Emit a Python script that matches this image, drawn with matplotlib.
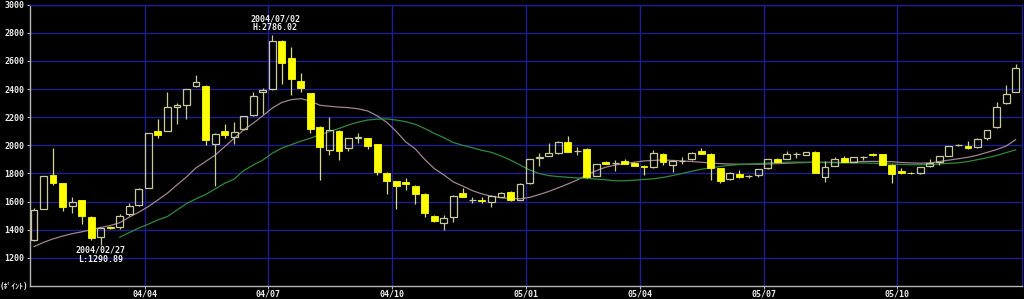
import numpy as np
import pandas as pd
import matplotlib
matplotlib.use('Agg')
import matplotlib.pyplot as plt

# ── data (weekly candles) ─────────────────────────────────────────────────────
dates = pd.date_range('2004-01-09', periods=104, freq='W-FRI')

opens = [1330, 1550, 1790, 1730, 1570, 1610, 1490, 1345, 1422, 1420,
         1510, 1575, 1700, 2100, 2105, 2275, 2287, 2422, 2425, 2010,
         2105, 2058, 2115, 2216, 2378, 2401, 2742, 2623, 2458, 2370,
         2129, 1968, 2105, 1980, 2050, 2050, 2008, 1803, 1747, 1742,
         1714, 1655, 1501, 1447, 1489, 1664, 1610, 1615, 1600, 1636,
         1671, 1612, 1730, 1912, 1927, 1944, 2027, 1958, 1974, 1783,
         1885, 1872, 1892, 1878, 1856, 1845, 1940, 1857, 1887, 1901,
         1960, 1939, 1837, 1759, 1797, 1780, 1787, 1837, 1906, 1904,
         1938, 1934, 1956, 1778, 1854, 1908, 1885, 1915, 1940, 1938,
         1862, 1815, 1806, 1800, 1851, 1885, 1927, 2000, 1996, 1987,
         2051, 2129, 2299, 2382]
highs = [1555, 1785, 1980, 1735, 1630, 1615, 1495, 1415, 1430, 1510,
         1590, 1700, 2090, 2190, 2380, 2300, 2400, 2500, 2430, 2085,
         2155, 2165, 2210, 2380, 2410, 2786.02, 2750, 2700, 2512, 2375,
         2135, 2205, 2110, 2055, 2090, 2055, 2012, 1808, 1750, 1771,
         1718, 1660, 1505, 1506, 1648, 1700, 1632, 1630, 1645, 1668,
         1675, 1730, 1905, 1945, 2015, 2030, 2063, 1988, 1978, 1870,
         1890, 1895, 1900, 1882, 1860, 1968, 1945, 1896, 1918, 1950,
         1979, 1943, 1840, 1810, 1825, 1790, 1833, 1905, 1910, 1960,
         1950, 1955, 1960, 1892, 1920, 1925, 1920, 1925, 1945, 1942,
         1865, 1840, 1812, 1848, 1900, 1925, 1998, 2012, 2034, 2050,
         2112, 2311, 2429, 2579]
lows = [1320, 1545, 1720, 1535, 1520, 1440, 1330, 1290.89, 1405, 1405,
        1500, 1570, 1700, 2055, 2100, 2155, 2190, 2415, 2000, 1710,
        2055, 2010, 2110, 2210, 2225, 2395, 2433, 2358, 2380, 2085,
        1755, 1932, 1896, 1960, 2020, 1972, 1790, 1653, 1546, 1683,
        1584, 1490, 1455, 1400, 1458, 1632, 1590, 1592, 1565, 1630,
        1605, 1608, 1725, 1850, 1922, 1940, 1950, 1932, 1770, 1780,
        1865, 1818, 1866, 1852, 1790, 1840, 1862, 1810, 1870, 1898,
        1935, 1751, 1730, 1755, 1768, 1770, 1773, 1835, 1880, 1900,
        1908, 1930, 1800, 1742, 1850, 1880, 1880, 1895, 1925, 1858,
        1731, 1795, 1796, 1797, 1848, 1860, 1925, 1992, 1976, 1983,
        2035, 2125, 2295, 2378]
closes = [1540, 1780, 1735, 1565, 1600, 1495, 1340, 1410, 1412, 1495,
          1570, 1690, 2085, 2075, 2270, 2290, 2400, 2453, 2040, 2080,
          2075, 2098, 2207, 2353, 2390, 2745, 2588, 2470, 2406, 2117,
          1991, 2110, 1960, 2051, 2058, 1995, 1809, 1745, 1712, 1728,
          1653, 1522, 1459, 1487, 1643, 1636, 1614, 1607, 1641, 1664,
          1612, 1726, 1900, 1918, 1949, 2027, 1956, 1962, 1777, 1866,
          1869, 1875, 1870, 1856, 1845, 1949, 1880, 1892, 1890, 1944,
          1939, 1837, 1749, 1806, 1773, 1783, 1830, 1901, 1885, 1939,
          1940, 1951, 1803, 1849, 1901, 1885, 1916, 1918, 1928, 1862,
          1797, 1800, 1802, 1844, 1875, 1922, 1994, 2003, 1980, 2046,
          2110, 2276, 2365, 2548]

# 13-week and 26-week moving averages as drawn in the reference
ma13 = [1280, 1310, 1335, 1355, 1372, 1385, 1400, 1416, 1430, 1450,
        1490, 1525, 1565, 1612, 1660, 1719, 1775, 1840, 1885, 1930,
        1990, 2050, 2110, 2157, 2210, 2265, 2305, 2325, 2332, 2315,
        2285, 2278, 2272, 2268, 2260, 2245, 2210, 2165, 2100, 2025,
        1975, 1900, 1835, 1790, 1740, 1710, 1678, 1655, 1638, 1628,
        1622, 1620, 1630, 1650, 1672, 1698, 1725, 1754, 1790, 1820,
        1845, 1860, 1870, 1880, 1889, 1893, 1896, 1893, 1889, 1885,
        1880, 1874, 1870, 1867, 1866, 1866, 1866, 1868, 1870, 1873,
        1876, 1878, 1880, 1880, 1879, 1878, 1880, 1885, 1886, 1885,
        1884, 1878, 1875, 1873, 1875, 1885, 1895, 1905, 1915, 1930,
        1950, 1970, 1995, 2040]
ma26 = [np.nan] * 9 + [
        1347, 1380, 1412, 1440, 1470, 1494, 1540, 1585, 1620, 1650,
        1690, 1730, 1760, 1820, 1860, 1895, 1944, 1980, 2005, 2030,
        2051, 2075, 2098, 2120, 2145, 2165, 2180, 2186, 2188, 2180,
        2168, 2150, 2120, 2085, 2055, 2020, 2000, 1983, 1965, 1950,
        1925, 1895, 1860, 1825, 1800, 1785, 1778, 1773, 1768, 1765,
        1760, 1755, 1748, 1748, 1752, 1758, 1762, 1772, 1785, 1800,
        1815, 1830, 1840, 1850, 1858, 1863, 1866, 1870, 1874, 1878,
        1880, 1881, 1880, 1878, 1877, 1876, 1875, 1875, 1875, 1873,
        1870, 1867, 1864, 1862, 1862, 1864, 1868, 1872, 1876, 1885,
        1898, 1912, 1928, 1948, 1968]

y_ticks = [1200, 1400, 1600, 1800, 2000, 2200, 2400, 2600, 2800, 3000]
quarter_starts = pd.to_datetime(['2004-04-01', '2004-07-01', '2004-10-01',
                                 '2005-01-01', '2005-04-01', '2005-07-01',
                                 '2005-10-01'])

# ── colours ───────────────────────────────────────────────────────────────────
BG = 'black'
GRID = '#1e1e90'
AXIS = '#b4b4b4'
HOLLOW = '#c8c8a0'
YELLOW = '#ffff00'
TXT = '#ececec'
MONO = ['DejaVu Sans Mono', 'Noto Sans CJK JP']

# ── figure ────────────────────────────────────────────────────────────────────
fig = plt.figure(figsize=(10.24, 2.99), dpi=100, facecolor=BG)
ax = fig.add_axes([30 / 1024, 13 / 299, 992 / 1024, 281.3 / 299])
ax.set_facecolor(BG)

x = np.arange(len(dates))
o = np.array(opens, float)
h = np.array(highs, float)
l = np.array(lows, float)
c = np.array(closes, float)
up = c >= o
body_lo = np.minimum(o, c)
body_hi = np.maximum(o, c)
body_h = np.maximum(body_hi - body_lo, 3)

# moving averages behind the candles
ax.plot(x, ma13, color='#a08494', lw=0.9, zorder=2)
ax.plot(x, ma26, color='#2e8a3a', lw=0.9, zorder=2)

# wicks (outside the body only)
wick_col = np.where(up, HOLLOW, '#d8d890')
ax.vlines(x, l, body_lo, colors=wick_col, lw=0.9, zorder=3)
ax.vlines(x, body_hi, h, colors=wick_col, lw=0.9, zorder=3)

# bodies
W = 0.72
ax.bar(x[up], body_h[up], bottom=body_lo[up], width=W, facecolor='none',
       edgecolor=HOLLOW, lw=0.9, zorder=4)
ax.bar(x[~up], body_h[~up], bottom=body_lo[~up], width=W, facecolor=YELLOW,
       edgecolor=YELLOW, lw=0.6, zorder=4)

# ── high / low annotations ────────────────────────────────────────────────────
i_hi = int(np.argmax(h))
i_lo = int(np.argmin(l))
ax.annotate(f"{dates[i_hi]:%Y/%m/%d}\nH:{h[i_hi]:.2f}", xy=(x[i_hi], h[i_hi]),
            xytext=(2, 2), textcoords='offset points', ha='center', va='bottom',
            fontsize=6, family=MONO, fontweight='bold', color=TXT,
            linespacing=1.0, zorder=6)
ax.annotate(f"{dates[i_lo]:%Y/%m/%d}\nL:{l[i_lo]:.2f}", xy=(x[i_lo], l[i_lo]),
            xytext=(0, -0.5), textcoords='offset points', ha='center', va='top',
            fontsize=6, family=MONO, fontweight='bold', color=TXT,
            linespacing=1.0, zorder=6)

# ── axes ──────────────────────────────────────────────────────────────────────
ax.set_xlim(-0.42, 103.67)
ax.set_ylim(1000, 3000)
ax.set_yticks(y_ticks)
ax.set_yticklabels([str(v) for v in y_ticks])

xt = [np.searchsorted(dates.values, q.to_datetime64()) - 0.4 for q in quarter_starts]
ax.set_xticks(xt)
ax.set_xticklabels([f"{q:%y/%m}" for q in quarter_starts])

ax.grid(True, color=GRID, lw=1.0, zorder=0)
ax.set_axisbelow(True)
for side in ('left', 'bottom'):
    ax.spines[side].set_color(AXIS)
    ax.spines[side].set_linewidth(1.0)
for side in ('top', 'right'):
    ax.spines[side].set_color(GRID)
    ax.spines[side].set_linewidth(1.0)

ax.tick_params(axis='both', colors=AXIS, length=2, width=0.8, labelsize=6,
               labelcolor=TXT)
ax.tick_params(axis='y', pad=2)
ax.tick_params(axis='x', pad=0.5)
for lab in ax.get_xticklabels() + ax.get_yticklabels():
    lab.set_family(MONO)
    lab.set_fontweight('bold')

fig.text(0.0, 12 / 299, '(ﾎﾟｲﾝﾄ)', ha='left', va='center', fontsize=5.5,
         family=MONO, fontweight='bold', color=TXT)

fig.savefig('out.png', dpi=100, facecolor=BG)
